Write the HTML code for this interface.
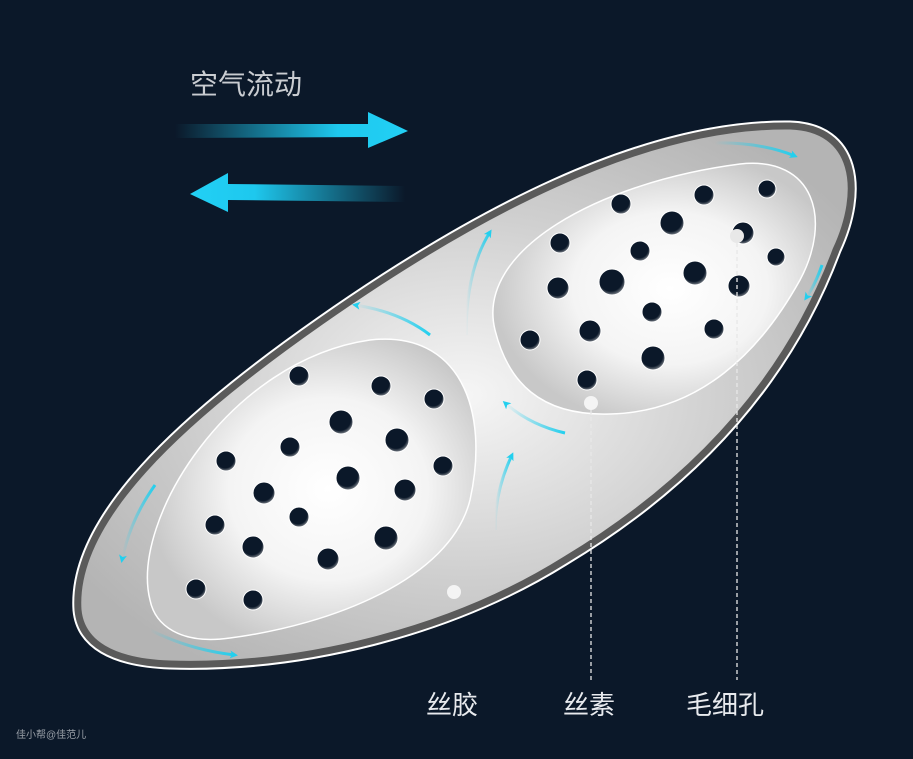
<!DOCTYPE html>
<html><head><meta charset="utf-8"><style>
html,body{margin:0;padding:0;background:#0b1829;}
svg{display:block}
text{font-family:"Liberation Sans","Noto Sans CJK SC",sans-serif;}
</style></head><body>
<svg width="913" height="759" viewBox="0 0 913 759" xmlns="http://www.w3.org/2000/svg">
<defs>
<radialGradient id="body" cx="50%" cy="50%" r="60%">
<stop offset="0" stop-color="#f6f6f6"/><stop offset="0.55" stop-color="#d0d0d0"/><stop offset="1" stop-color="#b4b4b4"/>
</radialGradient>
<radialGradient id="blob" cx="55%" cy="50%" r="55%">
<stop offset="0" stop-color="#ffffff"/><stop offset="0.55" stop-color="#f4f4f4"/><stop offset="1" stop-color="#c8c8c8"/>
</radialGradient>
<radialGradient id="hole" cx="45%" cy="40%" r="60%">
<stop offset="0" stop-color="#0b1829"/><stop offset="0.75" stop-color="#0b1829"/><stop offset="1" stop-color="#7a8088"/>
</radialGradient>
<linearGradient id="arR" x1="0" x2="1"><stop offset="0" stop-color="#0b1829"/><stop offset="0.7" stop-color="#1ec8ee"/><stop offset="1" stop-color="#22d0f5"/></linearGradient>
<linearGradient id="arL" x1="1" x2="0"><stop offset="0" stop-color="#0b1829"/><stop offset="0.7" stop-color="#1ec8ee"/><stop offset="1" stop-color="#22d0f5"/></linearGradient>
<linearGradient id="cy" x1="0" x2="1"><stop offset="0" stop-color="#22cfee" stop-opacity="0"/><stop offset="1" stop-color="#22cfee"/></linearGradient>
<marker id="ah" markerWidth="8" markerHeight="8" refX="5" refY="4" orient="auto" markerUnits="userSpaceOnUse"><path d="M0,0 L8,4 L0,8 L2,4Z" fill="#22cfee"/></marker>
<path id="outer" d="M78 610 C 72 520 180 420 320 322 C 470 217 640 124 790 126 C 856 128 864 190 836 250 C 795 360 715 470 565 560 C 450 632 300 668 170 664 C 112 662 81 643 78 610 Z"/>
</defs>
<text x="190" y="94" font-size="28" fill="#c9ccd1">空气流动</text>
<path d="M175 124 L368 124 L368 112 L408 131 L368 148 L368 137 L175 138Z" fill="url(#arR)"/>
<path d="M405 186 L228 184 L228 173 L190 194 L228 212 L228 200 L405 202Z" fill="url(#arL)"/>

<use href="#outer" fill="none" stroke="#ffffff" stroke-width="11"/>
<use href="#outer" fill="url(#body)" stroke="#5a5a5a" stroke-width="7"/>

<path d="M150 600 C 130 520 230 360 370 340 C 460 330 490 410 470 500 C 450 580 330 625 230 638 C 180 645 155 625 150 600 Z" fill="url(#blob)" stroke="#fff" stroke-width="1.5"/>
<path d="M495 330 C 475 250 600 182 740 164 C 815 156 832 220 800 280 C 760 352 700 412 610 414 C 540 416 508 382 495 330 Z" fill="url(#blob)" stroke="#fff" stroke-width="1.5"/>

<g fill="url(#hole)" stroke="#ffffff" stroke-width="1">
<circle cx="299" cy="376" r="10"/><circle cx="381" cy="386" r="10"/><circle cx="434" cy="399" r="10"/><circle cx="341" cy="422" r="12"/><circle cx="397" cy="440" r="12"/><circle cx="290" cy="447" r="10"/><circle cx="226" cy="461" r="10"/><circle cx="443" cy="466" r="10"/><circle cx="348" cy="478" r="12"/><circle cx="264" cy="493" r="11"/><circle cx="405" cy="490" r="11"/><circle cx="299" cy="517" r="10"/><circle cx="215" cy="525" r="10"/><circle cx="253" cy="547" r="11"/><circle cx="386" cy="538" r="12"/><circle cx="328" cy="559" r="11"/><circle cx="196" cy="589" r="10"/><circle cx="253" cy="600" r="10"/>
<circle cx="621" cy="204" r="10"/><circle cx="704" cy="195" r="10"/><circle cx="767" cy="189" r="9"/><circle cx="560" cy="243" r="10"/><circle cx="672" cy="223" r="12"/><circle cx="743" cy="233" r="11"/><circle cx="640" cy="251" r="10"/><circle cx="776" cy="257" r="9"/><circle cx="612" cy="282" r="13"/><circle cx="558" cy="288" r="11"/><circle cx="695" cy="273" r="12"/><circle cx="739" cy="286" r="11"/><circle cx="652" cy="312" r="10"/><circle cx="590" cy="331" r="11"/><circle cx="530" cy="340" r="10"/><circle cx="714" cy="329" r="10"/><circle cx="653" cy="358" r="12"/><circle cx="587" cy="380" r="10"/>
</g>
<circle cx="454" cy="592" r="7" fill="#f4f4f4"/>
<circle cx="591" cy="403" r="7" fill="#f4f4f4"/>
<circle cx="737" cy="236" r="7" fill="#e8e8e8"/>
<g stroke="#e8e8e8" stroke-width="1.3" stroke-dasharray="4,3">
<line x1="591" y1="410" x2="591" y2="680"/><line x1="737" y1="243" x2="737" y2="680"/>
</g>

<g fill="none" stroke="url(#cy)" stroke-width="3" marker-end="url(#ah)">
<path d="M715 143 Q760 142 795 156"/>
<path d="M150 630 Q190 650 235 655"/>
<path d="M155 485 Q130 520 122 560"/>
<path d="M822 265 Q815 285 806 298"/>
<path d="M430 335 Q400 312 355 305"/>
<path d="M466 335 Q466 270 490 232"/>
<path d="M565 433 Q530 425 505 403"/>
<path d="M495 530 Q495 490 512 455"/>
</g>

<text x="426" y="714" font-size="26" fill="#e8eaee">丝胶</text>
<text x="563" y="714" font-size="26" fill="#e8eaee">丝素</text>
<text x="686" y="714" font-size="26" fill="#e8eaee">毛细孔</text>
<text x="16" y="738" font-size="10" fill="#9aa0a8">佳小帮@佳范儿</text>
</svg>
</body></html>
